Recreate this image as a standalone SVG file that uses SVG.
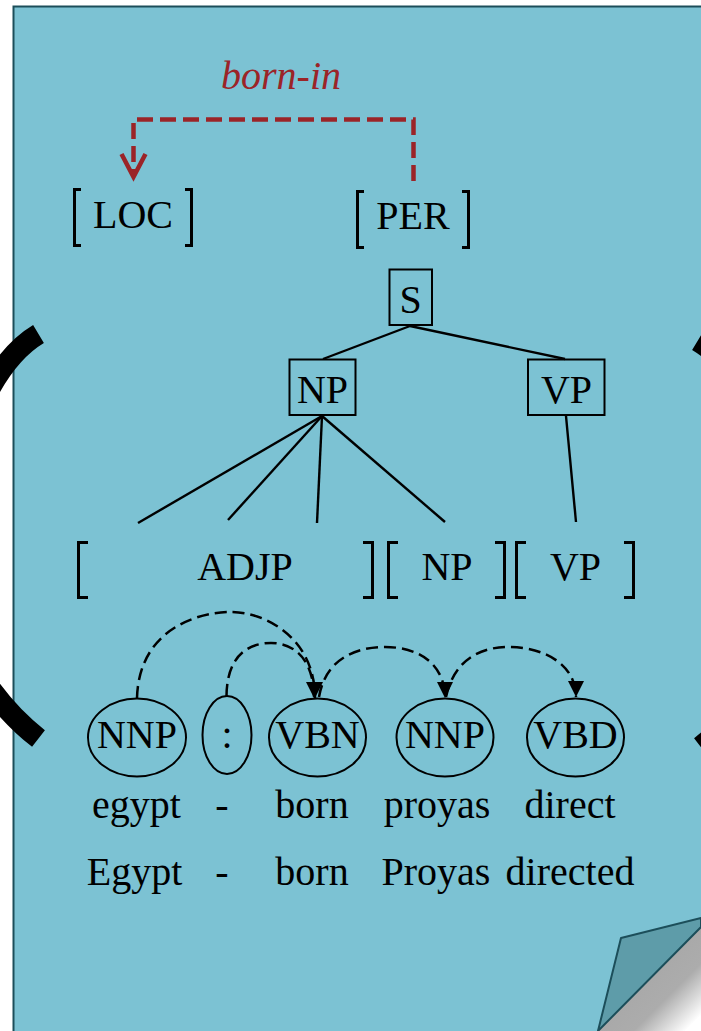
<svg xmlns="http://www.w3.org/2000/svg" width="701" height="1031" viewBox="0 0 701 1031">
  <defs>
    <style>
      .t { font-family: "Liberation Serif", "Times New Roman", serif; font-size: 40px; fill: #000; }
      .mid { text-anchor: middle; }
      .box { fill: none; stroke: #000; stroke-width: 2; }
      .ell { fill: none; stroke: #000; stroke-width: 2; }
      .edge { fill: none; stroke: #000; stroke-width: 2.4; }
      .brk { fill: none; stroke: #000; stroke-width: 3; }
      .dep { fill: none; stroke: #000; stroke-width: 2.5; stroke-dasharray: 12 6; }
      .rel { fill: none; stroke: #9b2428; stroke-width: 4.5; stroke-dasharray: 16 7; }
      .arc { fill: none; stroke: #000; stroke-width: 21; stroke-linecap: butt; }
    </style>
    <marker id="head" viewBox="0 0 16 16" refX="16" refY="8" markerWidth="16" markerHeight="16" markerUnits="userSpaceOnUse" orient="auto">
      <path d="M0,0 L16,8 L0,16 Z" fill="#000"/>
    </marker>
    <linearGradient id="curlShadow" gradientUnits="userSpaceOnUse" x1="649" y1="979" x2="701" y2="1031">
      <stop offset="0" stop-color="#a9a9a9"/>
      <stop offset="0.35" stop-color="#acacac"/>
      <stop offset="0.85" stop-color="#ffffff"/>
    </linearGradient>
  </defs>

  <!-- background and page -->
  <rect x="0" y="0" width="701" height="1031" fill="#ffffff"/>
  <path d="M13.5,1040 V6.5 H710 V920 L598,1031" fill="#7cc2d3" stroke="#1c4e5a" stroke-width="2"/>
  <!-- curled corner -->
  <polygon points="598,1031 701,927 701,1031" fill="url(#curlShadow)"/>
  <polygon points="598,1031 621,938 701,918 701,927" fill="#5e9ca9" stroke="#1c4e5a" stroke-width="2" stroke-linejoin="round"/>

  <!-- heavy arcs at the sides -->
  <g id="side-arcs">
    <path class="arc" d="M38.5,334 Q10,351 -12,392"/>
    <path class="arc" d="M38.5,738.5 Q12,718 -10,688"/>
    <path class="arc" d="M697.5,341 Q726,358 748,399"/>
    <path class="arc" d="M700.5,746.5 Q727,726 749,696"/>
  </g>

  <!-- connectors -->
  <g id="connectors">
    <!-- relation: PER to LOC -->
    <path class="rel" d="M413.5,181 V119.5 H133.5 V172"/>
    <polyline points="121.5,154 133.5,177 145.5,154" fill="none" stroke="#9b2428" stroke-width="4.5" stroke-linejoin="miter"/>
    <!-- constituency edges -->
    <line class="edge" x1="410" y1="326" x2="323" y2="359"/>
    <line class="edge" x1="410" y1="326" x2="565" y2="359"/>
    <line class="edge" x1="322" y1="416" x2="138" y2="523"/>
    <line class="edge" x1="322" y1="416" x2="228" y2="520"/>
    <line class="edge" x1="322" y1="416" x2="317" y2="523"/>
    <line class="edge" x1="322" y1="416" x2="445" y2="522"/>
    <line class="edge" x1="566" y1="416" x2="576" y2="522"/>
    <!-- dependency arcs -->
    <path class="dep" d="M137,698 C139,628 200,612 230,612 C268,612 315,640 315,698" marker-end="url(#head)"/>
    <path class="dep" d="M226.5,696 C227,652 252,643 271,643 C295,643 314,660 314,698" marker-end="url(#head)"/>
    <path class="dep" d="M319,697 C326,656 360,647 385,647 C420,647 445,665 445,698" marker-end="url(#head)"/>
    <path class="dep" d="M446,697 C455,656 485,647 508,647 C545,647 576,665 576,697" marker-end="url(#head)"/>
  </g>

  <!-- relation label -->
  <text x="281" y="89" class="t mid" style="font-style:italic; fill:#9b2428">born-in</text>

  <!-- entity nodes -->
  <g id="loc">
    <path class="brk" d="M81,189.5 H74.5 V245.5 H81"/>
    <text x="133" y="228" class="t mid">LOC</text>
    <path class="brk" d="M185,189.5 H191.5 V245.5 H185"/>
  </g>
  <g id="per">
    <path class="brk" d="M364,191.5 H357.5 V247.5 H364"/>
    <text x="413" y="229" class="t mid">PER</text>
    <path class="brk" d="M462,191.5 H468.5 V247.5 H462"/>
  </g>

  <!-- tree nodes -->
  <g id="s">
    <rect class="box" x="389.5" y="269.5" width="42.5" height="55.5"/>
    <text x="410.5" y="313" class="t mid">S</text>
  </g>
  <g id="np-top">
    <rect class="box" x="289.5" y="359.5" width="66" height="55.5"/>
    <text x="322.5" y="403" class="t mid">NP</text>
  </g>
  <g id="vp-top">
    <rect class="box" x="528" y="359.5" width="76.5" height="55.5"/>
    <text x="566.5" y="403" class="t mid">VP</text>
  </g>

  <!-- chunk row -->
  <g id="adjp">
    <path class="brk" d="M88,542.5 H78.5 V597.5 H88"/>
    <text x="245" y="580" class="t mid">ADJP</text>
    <path class="brk" d="M363,542.5 H372.5 V597.5 H363"/>
  </g>
  <g id="np-chunk">
    <path class="brk" d="M398,542.5 H388.5 V597.5 H398"/>
    <text x="447" y="580" class="t mid">NP</text>
    <path class="brk" d="M495,542.5 H504.5 V597.5 H495"/>
  </g>
  <g id="vp-chunk">
    <path class="brk" d="M526,542.5 H516.5 V597.5 H526"/>
    <text x="575.5" y="580" class="t mid">VP</text>
    <path class="brk" d="M624,542.5 H633.5 V597.5 H624"/>
  </g>

  <!-- token nodes -->
  <g id="tok-egypt">
    <ellipse class="ell" cx="137" cy="737.5" rx="49" ry="39"/>
    <text x="137" y="748" class="t mid">NNP</text>
    <text x="136.5" y="818" class="t mid">egypt</text>
    <text x="134.5" y="885" class="t mid">Egypt</text>
  </g>
  <g id="tok-dash">
    <ellipse class="ell" cx="227" cy="735" rx="24.5" ry="39"/>
    <text x="227" y="748" class="t mid">:</text>
    <text x="222" y="818" class="t mid">-</text>
    <text x="222" y="885" class="t mid">-</text>
  </g>
  <g id="tok-born">
    <ellipse class="ell" cx="317.5" cy="737.5" rx="48.5" ry="39"/>
    <text x="317.5" y="748" class="t mid">VBN</text>
    <text x="312" y="818" class="t mid">born</text>
    <text x="312" y="885" class="t mid">born</text>
  </g>
  <g id="tok-proyas">
    <ellipse class="ell" cx="445" cy="737.5" rx="48.5" ry="39"/>
    <text x="445" y="748" class="t mid">NNP</text>
    <text x="437" y="818" class="t mid">proyas</text>
    <text x="436" y="885" class="t mid">Proyas</text>
  </g>
  <g id="tok-directed">
    <ellipse class="ell" cx="575.5" cy="737.5" rx="48.5" ry="39"/>
    <text x="575.5" y="748" class="t mid">VBD</text>
    <text x="570" y="818" class="t mid">direct</text>
    <text x="570" y="885" class="t mid">directed</text>
  </g>
</svg>
